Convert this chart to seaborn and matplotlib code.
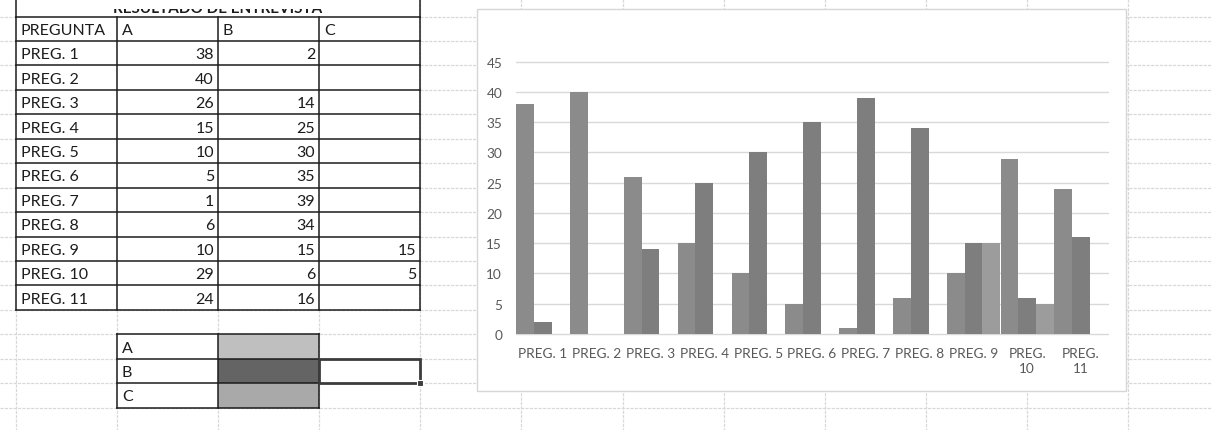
import matplotlib
matplotlib.use("Agg")
import matplotlib.pyplot as plt
from matplotlib.patches import Rectangle
import pandas as pd
import seaborn as sns

# ---- data -------------------------------------------------------------
preguntas = ["PREG. 1", "PREG. 2", "PREG. 3", "PREG. 4", "PREG. 5", "PREG. 6",
             "PREG. 7", "PREG. 8", "PREG. 9", "PREG. 10", "PREG. 11"]
resp_a = [38, 40, 26, 15, 10, 5, 1, 6, 10, 29, 24]
resp_b = [2, None, 14, 25, 30, 35, 39, 34, 15, 6, 16]
resp_c = [None, None, None, None, None, None, None, None, 15, 5, None]
series = ["A", "B", "C"]
x_labels = ["PREG. 1", "PREG. 2", "PREG. 3", "PREG. 4", "PREG. 5", "PREG. 6",
            "PREG. 7", "PREG. 8", "PREG. 9", "PREG.\n10", "PREG.\n11"]
y_ticks = [0, 5, 10, 15, 20, 25, 30, 35, 40, 45]
header = ["PREGUNTA", "A", "B", "C"]
title = "RESULTADO DE ENTREVISTA"

# ---- styling ----------------------------------------------------------
bar_colors = ["#8b8b8b", "#7e7e7e", "#9c9c9c"]
key_colors = ["#bfbfbf", "#646464", "#a9a9a9"]
FONT = "Lato"
INK = "#1c1c1c"

sns.set_theme(style="white")
plt.rcParams["font.family"] = [FONT, "DejaVu Sans"]

W, H = 1212, 431
fig = plt.figure(figsize=(W / 100, H / 100), dpi=100)
fig.patch.set_facecolor("white")

# sheet layer in pixel coordinates
sheet = fig.add_axes([0, 0, 1, 1])
sheet.set_xlim(0, W)
sheet.set_ylim(H, 0)
sheet.axis("off")

ROW0, ROWH = 17.5, 24.45
COL0, COLW = 15.7, 101.15
rows_y = [ROW0 + ROWH * k for k in range(18)]
cols_x = [COL0 + COLW * k for k in range(12)]

# worksheet gridlines
grid_kw = dict(color="#d8d8d8", lw=0.9, ls=(0, (2.5, 1)), zorder=0)
for y in rows_y:
    sheet.plot([0, W], [y, y], **grid_kw)
for x in cols_x:
    sheet.plot([x, x], [0, H], **grid_kw)

# white fill under the table so gridlines don't show through
sheet.add_patch(Rectangle((cols_x[0], 0), cols_x[4] - cols_x[0], rows_y[12],
                          fc="white", ec="none", zorder=1))

border_kw = dict(color=INK, lw=1.1, zorder=3, solid_capstyle="projecting")

# title row (mostly scrolled off the top of the view)
t = sheet.text((cols_x[0] + cols_x[4]) / 2, rows_y[0] - 4.5, title, ha="center",
               va="baseline", fontsize=11, fontweight="bold", color=INK, zorder=4)
t.set_clip_on(True)
t.set_clip_path(Rectangle((0, 10), W, 10, transform=sheet.transData))
sheet.plot([cols_x[0], cols_x[0]], [0, rows_y[0]], **border_kw)
sheet.plot([cols_x[4], cols_x[4]], [0, rows_y[0]], **border_kw)

# results table
for k in range(13):
    sheet.plot([cols_x[0], cols_x[4]], [rows_y[k], rows_y[k]], **border_kw)
for c in range(5):
    sheet.plot([cols_x[c], cols_x[c]], [rows_y[0], rows_y[12]], **border_kw)


def cell(col, row, s, ha="left"):
    x = cols_x[col] + 5 if ha == "left" else cols_x[col + 1] - 4
    sheet.text(x, rows_y[row] + ROWH / 2 + 1, s, ha=ha, va="center",
               fontsize=11.5, color=INK, zorder=4)


for c, h in enumerate(header):
    cell(c, 0, h)
for r, (p, a, b, cc) in enumerate(zip(preguntas, resp_a, resp_b, resp_c), start=1):
    cell(0, r, p)
    for c, v in enumerate((a, b, cc), start=1):
        if v is not None:
            cell(c, r, str(v), ha="right")

# colour key block
for i, (s, col) in enumerate(zip(series, key_colors)):
    r = 13 + i
    sheet.add_patch(Rectangle((cols_x[1], rows_y[r]), COLW, ROWH, fc="white",
                              ec="none", zorder=1))
    sheet.add_patch(Rectangle((cols_x[2], rows_y[r]), COLW, ROWH, fc=col,
                              ec="none", zorder=2))
    cell(1, r, s)
for k in range(13, 17):
    sheet.plot([cols_x[1], cols_x[3]], [rows_y[k], rows_y[k]], **border_kw)
for c in range(1, 4):
    sheet.plot([cols_x[c], cols_x[c]], [rows_y[13], rows_y[16]], **border_kw)

# active cell selection
sheet.add_patch(Rectangle((cols_x[3], rows_y[14]), COLW, ROWH, fc="none",
                          ec="#3c3c3c", lw=2.0, zorder=5))
sheet.add_patch(Rectangle((cols_x[4] - 3, rows_y[15] - 3), 6, 6, fc="#3c3c3c",
                          ec="white", lw=0.8, zorder=6))

# chart frame
sheet.add_patch(Rectangle((477, 10), 649, 382, fc="white", ec="#d6d6d6",
                          lw=1.0, zorder=7))

# ---- bar chart --------------------------------------------------------
rows = []
for s, vals in zip(series, (resp_a, resp_b, resp_c)):
    for p, v in zip(preguntas, vals):
        if v is not None:
            rows.append({"pregunta": p, "serie": s, "valor": v})
df = pd.DataFrame(rows)

px0, px1, py_top, py_bot = 516, 1108, 62.7, 335
ax = fig.add_axes([px0 / W, 1 - py_bot / H, (px1 - px0) / W, (py_bot - py_top) / H])
ax.set_zorder(8)
ax.patch.set_alpha(0)

sns.barplot(data=df, x="pregunta", y="valor", hue="serie", order=preguntas,
            hue_order=series, palette=dict(zip(series, bar_colors)),
            saturation=1, width=0.99, gap=0, errorbar=None, legend=False,
            linewidth=0, ax=ax)

ax.set_xlim(-0.5, len(preguntas) - 0.5)
ax.set_ylim(0, 45)
ax.set_yticks(y_ticks)
ax.set_xticks(range(len(preguntas)))
ax.set_xticklabels(x_labels, linespacing=1.25)
ax.yaxis.grid(True, color="#d9d9d9", lw=1.0)
ax.xaxis.grid(False)
ax.set_axisbelow(True)
for sp in ax.spines.values():
    sp.set_visible(False)
ax.set_xlabel("")
ax.set_ylabel("")
ax.tick_params(axis="both", length=0, colors="#595959", labelsize=9.8)
ax.tick_params(axis="x", pad=9.5)
ax.tick_params(axis="y", pad=10)
for gl in ax.yaxis.get_gridlines():
    gl.set_clip_on(False)

fig.savefig("out.png", dpi=100, facecolor="white")
